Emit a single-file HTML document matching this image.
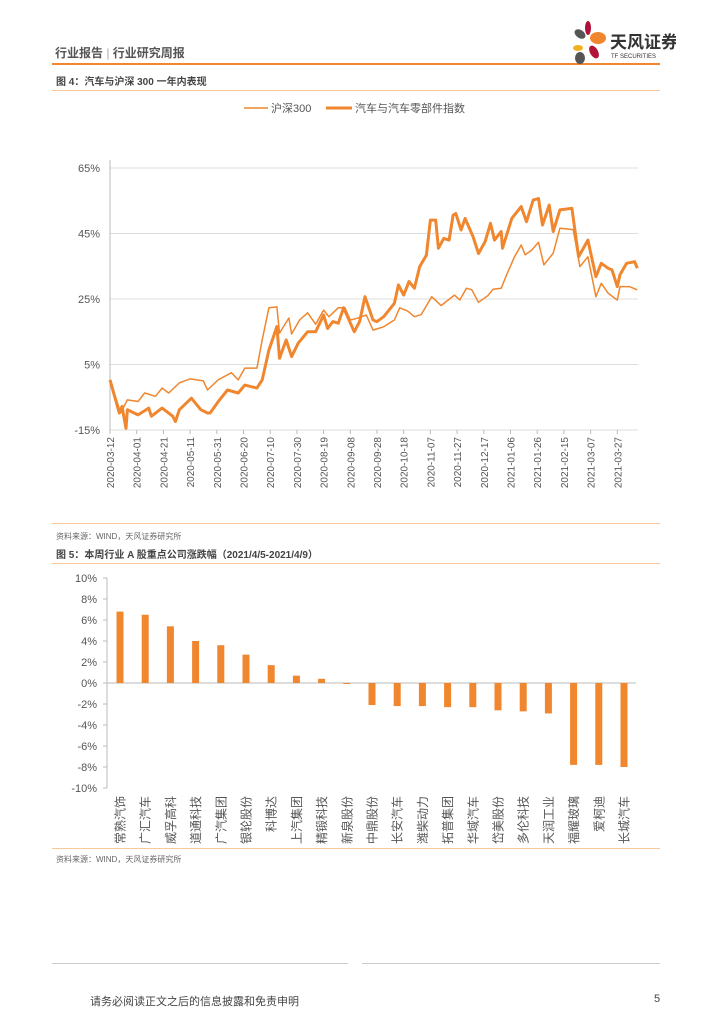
<!DOCTYPE html>
<html><head><meta charset="utf-8">
<style>
body{margin:0;width:724px;height:1024px;background:#fff;position:relative;overflow:hidden;font-family:"Liberation Sans","Noto Sans CJK SC",sans-serif;color:#333}
.abs{position:absolute}
</style></head><body>
<div class="abs" style="left:55px;top:44px;font-size:12px;color:#555;font-weight:bold">行业报告 <span style="color:#aaa;font-weight:normal">|</span> 行业研究周报</div>
<div class="abs" style="left:52px;top:63px;width:608px;height:2px;background:#f0862e"></div>
<svg class="abs" style="left:566px;top:20px" width="110" height="46">
<ellipse cx="14" cy="14" rx="6" ry="4" fill="#555" transform="rotate(35 14 14)"/>
<ellipse cx="22" cy="8" rx="3" ry="7" fill="#b0123a"/>
<ellipse cx="32" cy="18" rx="8" ry="6" fill="#f0862e"/>
<ellipse cx="12" cy="28" rx="5" ry="3" fill="#f0b020"/>
<ellipse cx="28" cy="32" rx="4" ry="7" fill="#b0123a" transform="rotate(-30 28 32)"/>
<ellipse cx="14" cy="38" rx="5" ry="6" fill="#555"/>
<text x="44" y="28" font-size="17" font-weight="bold" fill="#333" font-family="Noto Sans CJK SC,sans-serif">天风证券</text>
<text x="45" y="38" font-size="6" fill="#333">TF SECURITIES</text>
</svg>
<div class="abs" style="left:56px;top:73px;font-size:10px;font-weight:bold;color:#444">图 4：汽车与沪深 300 一年内表现</div>
<div class="abs" style="left:52px;top:90px;width:608px;height:1px;background:#f9c89b"></div>

<svg class="abs" id="c1" style="left:0;top:0" width="724" height="520"></svg>

<div class="abs" style="left:52px;top:523px;width:608px;height:1px;background:#f9c89b"></div>
<div class="abs" style="left:56px;top:531px;font-size:8px;color:#666">资料来源：WIND，天风证券研究所</div>
<div class="abs" style="left:56px;top:546px;font-size:10px;font-weight:bold;color:#444">图 5：本周行业 A 股重点公司涨跌幅（2021/4/5-2021/4/9）</div>
<div class="abs" style="left:52px;top:563px;width:608px;height:1px;background:#f9c89b"></div>

<svg class="abs" id="c2" style="left:0;top:570px" width="724" height="276"></svg>

<div class="abs" style="left:52px;top:848px;width:608px;height:1px;background:#f9c89b"></div>
<div class="abs" style="left:56px;top:854px;font-size:8px;color:#666">资料来源：WIND，天风证券研究所</div>
<div class="abs" style="left:52px;top:963px;width:296px;height:1px;background:#ccc"></div>
<div class="abs" style="left:362px;top:963px;width:298px;height:1px;background:#ccc"></div>
<div class="abs" style="left:90px;top:993px;font-size:11px;color:#444">请务必阅读正文之后的信息披露和免责申明</div>
<div class="abs" style="left:654px;top:993px;font-size:11px;color:#444">5</div>

<script>
const hsDays=[0,8,13,21,26,34,39,44,52,60,70,73,81,91,96,101,110,114,119,125,127,134,136,142,148,154,160,164,171,176,180,185,192,197,205,213,217,223,228,233,241,248,258,262,267,271,276,283,287,293,297,303,308,311,316,321,325,332,337,347,352,358,364,368,373,380,382,389,395];
const hsVals=[0.3,-9.8,-5.8,-6.3,-3.7,-4.7,-2.2,-3.7,-0.6,0.6,0,-2.8,0.3,2.5,0.3,3.9,3.9,12.5,22.3,22.6,14.6,19.2,14.3,18.6,20.8,17.3,21.6,19.6,22.3,22.3,18.6,19.1,20.1,15.5,16.5,18.6,22.3,21.3,19.6,20.2,25.7,23.0,26.2,24.7,28.3,27.8,24.0,26.0,28.0,28.3,32.3,37.9,41.5,38.5,40.0,42.3,35.4,39.0,46.6,46.2,34.9,37.9,25.7,29.8,26.8,24.7,28.8,28.8,27.8];
const autoDays=[0,7,9,12,13,21,29,31,39,47,49,52,61,68,73,75,82,88,96,101,110,114,119,125,127,132,136,141,148,154,160,163,167,171,175,183,187,191,197,200,205,213,216,220,224,228,232,237,240,244,246,250,254,257,259,263,266,272,276,281,285,288,293,294,301,308,312,317,321,324,329,332,337,346,351,358,364,368,373,376,380,382,387,393,395];
const autoVals=[0.3,-9.8,-7.8,-14.5,-8.8,-10.4,-8.3,-10.8,-8.3,-10.8,-12.4,-8.8,-5.3,-8.8,-9.8,-9.8,-5.8,-2.8,-3.7,-1.3,-2.2,0.3,9.4,16.6,6.9,12.5,7.4,11.5,15.0,15.0,20.1,16.0,18.1,17.6,22.3,15.0,18.1,25.7,18.6,18.1,19.6,23.7,29.3,26.2,30.3,28.3,34.9,38.4,49.1,49.1,40.5,43.5,43.0,50.6,51.1,46.1,49.6,44.0,38.9,42.5,48.1,43.0,45.6,40.5,49.6,53.2,48.6,55.2,55.7,47.6,53.7,45.6,52.2,52.7,37.9,43.0,31.8,35.9,34.4,33.9,28.8,32.4,35.9,36.4,34.4];
const yTicks1=[-15,5,25,45,65];
const xLabels1=["2020-03-12","2020-04-01","2020-04-21","2020-05-11","2020-05-31","2020-06-20","2020-07-10","2020-07-30","2020-08-19","2020-09-08","2020-09-28","2020-10-18","2020-11-07","2020-11-27","2020-12-17","2021-01-06","2021-01-26","2021-02-15","2021-03-07","2021-03-27"];

const companies=["常熟汽饰","广汇汽车","威孚高科","道通科技","广汽集团","银轮股份","科博达","上汽集团","精锻科技","新泉股份","中鼎股份","长安汽车","潍柴动力","拓普集团","华域汽车","岱美股份","多伦科技","天润工业","福耀玻璃","爱柯迪","长城汽车"];
const changes=[6.8,6.5,5.4,4.0,3.6,2.7,1.7,0.7,0.4,-0.1,-2.1,-2.2,-2.2,-2.3,-2.3,-2.6,-2.7,-2.9,-7.8,-7.8,-8.0];
const yTicks2=[-10,-8,-6,-4,-2,0,2,4,6,8,10];

const NS="http://www.w3.org/2000/svg";
function mk(p,t,a){const e=document.createElementNS(NS,t);for(const k in a)e.setAttribute(k,a[k]);p.appendChild(e);return e;}
const C="#f0862e";
const s1=document.getElementById('c1');
const x1=d=>110+d*1.335, y1=v=>430-(v+15)*65.5/20;
yTicks1.forEach(v=>{
 const g=mk(s1,'line',{x1:110,x2:638,y1:y1(v),y2:y1(v),stroke:'#ddd','stroke-width':1});
 
 
 const t=mk(s1,'text',{x:100,y:y1(v)+4,'text-anchor':'end','font-size':11,fill:'#555'});
 t.textContent=v+'%';
 
 
});
mk(s1,'line',{x1:110,x2:110,y1:160,y2:431,stroke:'#bbb'});
xLabels1.forEach((l,i)=>{
 const x=x1(i*20);
 mk(s1,'line',{x1:x,x2:x,y1:430,y2:434,stroke:'#bbb'});
 const t=mk(s1,'text',{x:0,y:0,'text-anchor':'end','font-size':10,fill:'#555',transform:`translate(${x+4},437) rotate(-90)`});
 t.textContent=l;
 
 
});
function path(days,vals,w,name){
 const d=days.map((dd,i)=>(i?'L':'M')+x1(dd).toFixed(1)+' '+y1(vals[i]).toFixed(1)).join(' ');
 const p=mk(s1,'path',{d:d,fill:'none',stroke:C,'stroke-width':w,'stroke-linejoin':'round'});
 
 
}
path(hsDays,hsVals,1.5,'hs300-line');
path(autoDays,autoVals,3,'auto-index-line');
mk(s1,'line',{x1:244,x2:268,y1:108,y2:108,stroke:C,'stroke-width':1.5});
let lt=mk(s1,'text',{x:271,y:112,'font-size':11,fill:'#555'});lt.textContent='沪深300';


mk(s1,'line',{x1:326,x2:352,y1:108,y2:108,stroke:C,'stroke-width':3});
lt=mk(s1,'text',{x:355,y:112,'font-size':11,fill:'#555'});lt.textContent='汽车与汽车零部件指数';



const s2=document.getElementById('c2');
const y2=v=>113-v*10.5;
const bx=i=>120+i*25.2;
mk(s2,'line',{x1:107,x2:107,y1:y2(10),y2:y2(-10),stroke:'#bbb'});
yTicks2.forEach(v=>{
 mk(s2,'line',{x1:103,x2:107,y1:y2(v),y2:y2(v),stroke:'#bbb'});
 const t=mk(s2,'text',{x:97,y:y2(v)+4,'text-anchor':'end','font-size':11,fill:'#555'});
 t.textContent=v+'%';
 
 
});
mk(s2,'line',{x1:107,x2:636,y1:y2(0),y2:y2(0),stroke:'#bbb'});
changes.forEach((v,i)=>{
 const r=mk(s2,'rect',{x:bx(i)-3.5,width:7,y:Math.min(y2(v),y2(0)),height:Math.max(Math.abs(y2(v)-y2(0)),1),fill:C});
 
 
 const t=mk(s2,'text',{x:0,y:0,'text-anchor':'end','font-size':12,fill:'#555',transform:`translate(${bx(i)+4.5},226) rotate(-90)`});
 t.textContent=companies[i];
 
 
});
</script>
</body></html>
